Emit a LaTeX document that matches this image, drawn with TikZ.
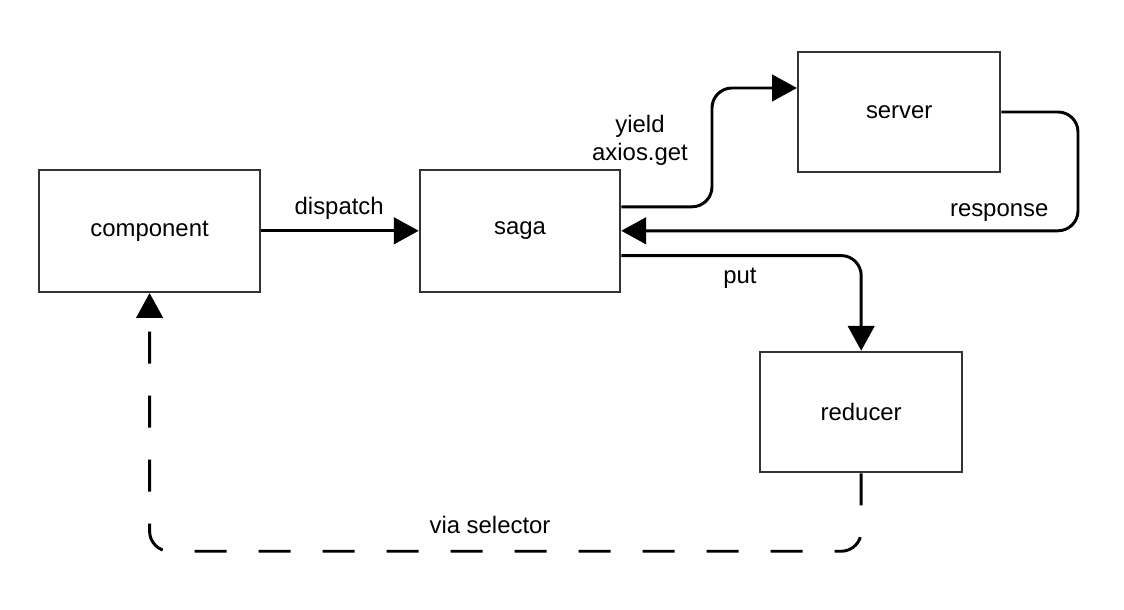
\documentclass[tikz,border=0pt]{standalone}
\usepackage{fontspec}
\setmainfont{Liberation Sans}
\usetikzlibrary{arrows.meta,positioning,calc}
\definecolor{edge}{RGB}{51,51,51}
\definecolor{wire}{RGB}{0,0,0}

\begin{document}
\begin{tikzpicture}[
    block/.style={draw=edge,line width=1.8pt,minimum width=5.05cm,minimum height=3cm,
      font=\fontsize{17}{20}\selectfont},
    lbl/.style={font=\fontsize{17}{20}\selectfont,align=center},
    flow/.style={wire,line width=2.1pt,rounded corners=0.5cm,
      -{Triangle[length=0.62cm,width=0.66cm]}},
    back/.style={flow,dash pattern=on 0.8cm off 0.8cm}]
    \useasboundingbox (0,0) rectangle (28.1,15.25);
    % boxes
    \node[block,minimum width=5.52cm,minimum height=3.05cm] (component) at (3.74,9.48) {component};
    \node[block,minimum width=5cm,minimum height=3.05cm] (saga) at (13.0,9.48) {saga};
    \node[block] (server) at (22.48,12.45) {server};
    \node[block] (reducer) at (21.53,4.95) {reducer};
    % connectors
    \draw[flow] (component) -- (saga);
    \draw[flow] ($(saga.east)+(0,0.6)$) -- (17.8,10.08) |- ($(server.west)+(0,0.6)$);
    \draw[flow] (server.east) -- (26.95,12.45) |- (saga.east);
    \draw[flow] ($(saga.east)+(0,-0.62)$) -| (reducer.north);
    \draw[back] (reducer.south) -- ++(0,-1.95) -| (component.south);
    % labels
    \node[lbl] (l-dispatch) at (8.48,10.05) {dispatch};
    \node[lbl] (l-yield) at (16.0,11.75) {yield\\axios.get};
    \node[lbl] (l-response) at (24.98,9.93) {response};
    \node[lbl] (l-put) at (18.5,8.3) {put};
    \node[lbl] (l-selector) at (12.25,2.13) {via selector};
\end{tikzpicture}
\end{document}
